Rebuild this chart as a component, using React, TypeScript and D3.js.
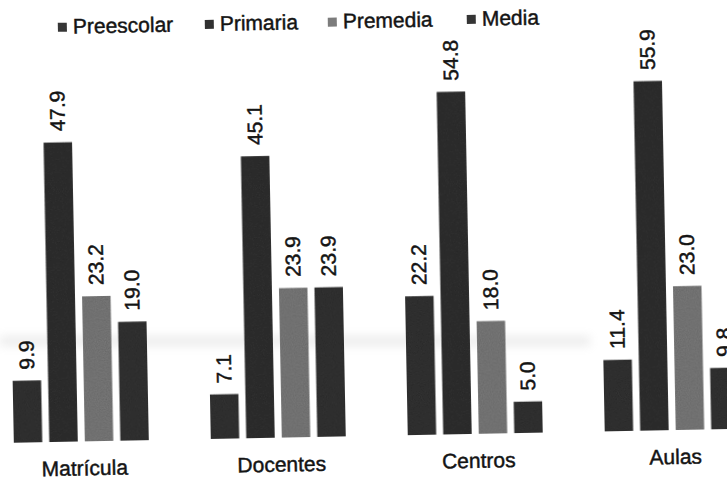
import React from "react";
import * as d3 from "d3";

const categories = ["Matrícula", "Docentes", "Centros", "Aulas"];
const seriesNames = ["Preescolar", "Primaria", "Premedia", "Media"];
const preescolar = [9.9, 7.1, 22.2, 11.4];
const primaria = [47.9, 45.1, 54.8, 55.9];
const premedia = [23.2, 23.9, 18.0, 23.0];
const media = [19.0, 23.9, 5.0, 9.8];
const seriesValues = [preescolar, primaria, premedia, media];
const seriesColors = ["#363636", "#313131", "#7c7c7c", "#353535"];

const W = 727;
const H = 479;

export default function App() {
  const baseY = 436;
  const x0 = d3
    .scaleBand<string>()
    .domain(categories)
    .range([10, 10 + 3 * 197 + 135])
    .paddingInner(62 / 197)
    .paddingOuter(0);
  const x1 = d3
    .scaleBand<string>()
    .domain(seriesNames)
    .range([0, x0.bandwidth()])
    .paddingInner(0.2);
  const y = d3.scaleLinear().domain([0, 60]).range([baseY, baseY - 60 * 6.25]);
  const fmt = d3.format(".1f");

  const legendX = [62, 209, 332, 471];
  const font = "'Liberation Sans', Arial, sans-serif";
  const textProps = {
    fontFamily: font,
    fill: "#141414",
    stroke: "#141414",
    strokeWidth: 0.45,
  };

  return (
    <svg
      width={W}
      height={H}
      style={{ position: "absolute", left: 0, top: 0, background: "#fff" }}
    >
      <defs>
        <filter id="grain" x="0" y="0" width="100%" height="100%">
          <feTurbulence type="fractalNoise" baseFrequency="0.9" numOctaves="2" seed="3" result="n" />
          <feColorMatrix
            in="n"
            type="matrix"
            values="0 0 0 0 0  0 0 0 0 0  0 0 0 0 0  0 0 0 0.35 0"
            result="a"
          />
          <feComposite in="a" in2="SourceGraphic" operator="in" result="g" />
          <feMerge>
            <feMergeNode in="SourceGraphic" />
            <feMergeNode in="g" />
          </feMerge>
        </filter>
        <filter id="blur" x="-10%" y="-200%" width="120%" height="500%">
          <feGaussianBlur stdDeviation="5" />
        </filter>
      </defs>
      <rect
        x={0}
        y={336}
        width={590}
        height={10}
        fill="#9a9a9a"
        opacity={0.18}
        filter="url(#blur)"
      />
      <g transform="rotate(-1.1 363 240)">
        {/* legend */}
        {seriesNames.map((s, i) => (
          <g key={s}>
            <rect x={legendX[i]} y={17} width={9} height={9} fill={seriesColors[i]} />
            <text x={legendX[i] + 15} y={28} fontSize={21} {...textProps}>
              {s}
            </text>
          </g>
        ))}
        {/* bars */}
        {categories.map((c, ci) => (
          <g key={c} transform={`translate(${x0(c)},0)`}>
            {seriesNames.map((s, si) => {
              const v = seriesValues[si][ci];
              const bx = x1(s)!;
              const bw = x1.bandwidth();
              return (
                <g key={s}>
                  <rect
                    x={bx}
                    y={y(v)}
                    width={bw}
                    height={y(0) - y(v)}
                    fill={seriesColors[si]}
                    filter="url(#grain)"
                  />
                  <text
                    transform={`translate(${bx + bw / 2},${y(v) - 11}) rotate(-90)`}
                    dominantBaseline="central"
                    fontSize={21}
                    {...textProps}
                  >
                    {fmt(v)}
                  </text>
                </g>
              );
            })}
            <text
              x={x0.bandwidth() / 2 + 3}
              y={baseY + 34}
              textAnchor="middle"
              fontSize={21}
              {...textProps}
            >
              {c}
            </text>
          </g>
        ))}
      </g>
    </svg>
  );
}
